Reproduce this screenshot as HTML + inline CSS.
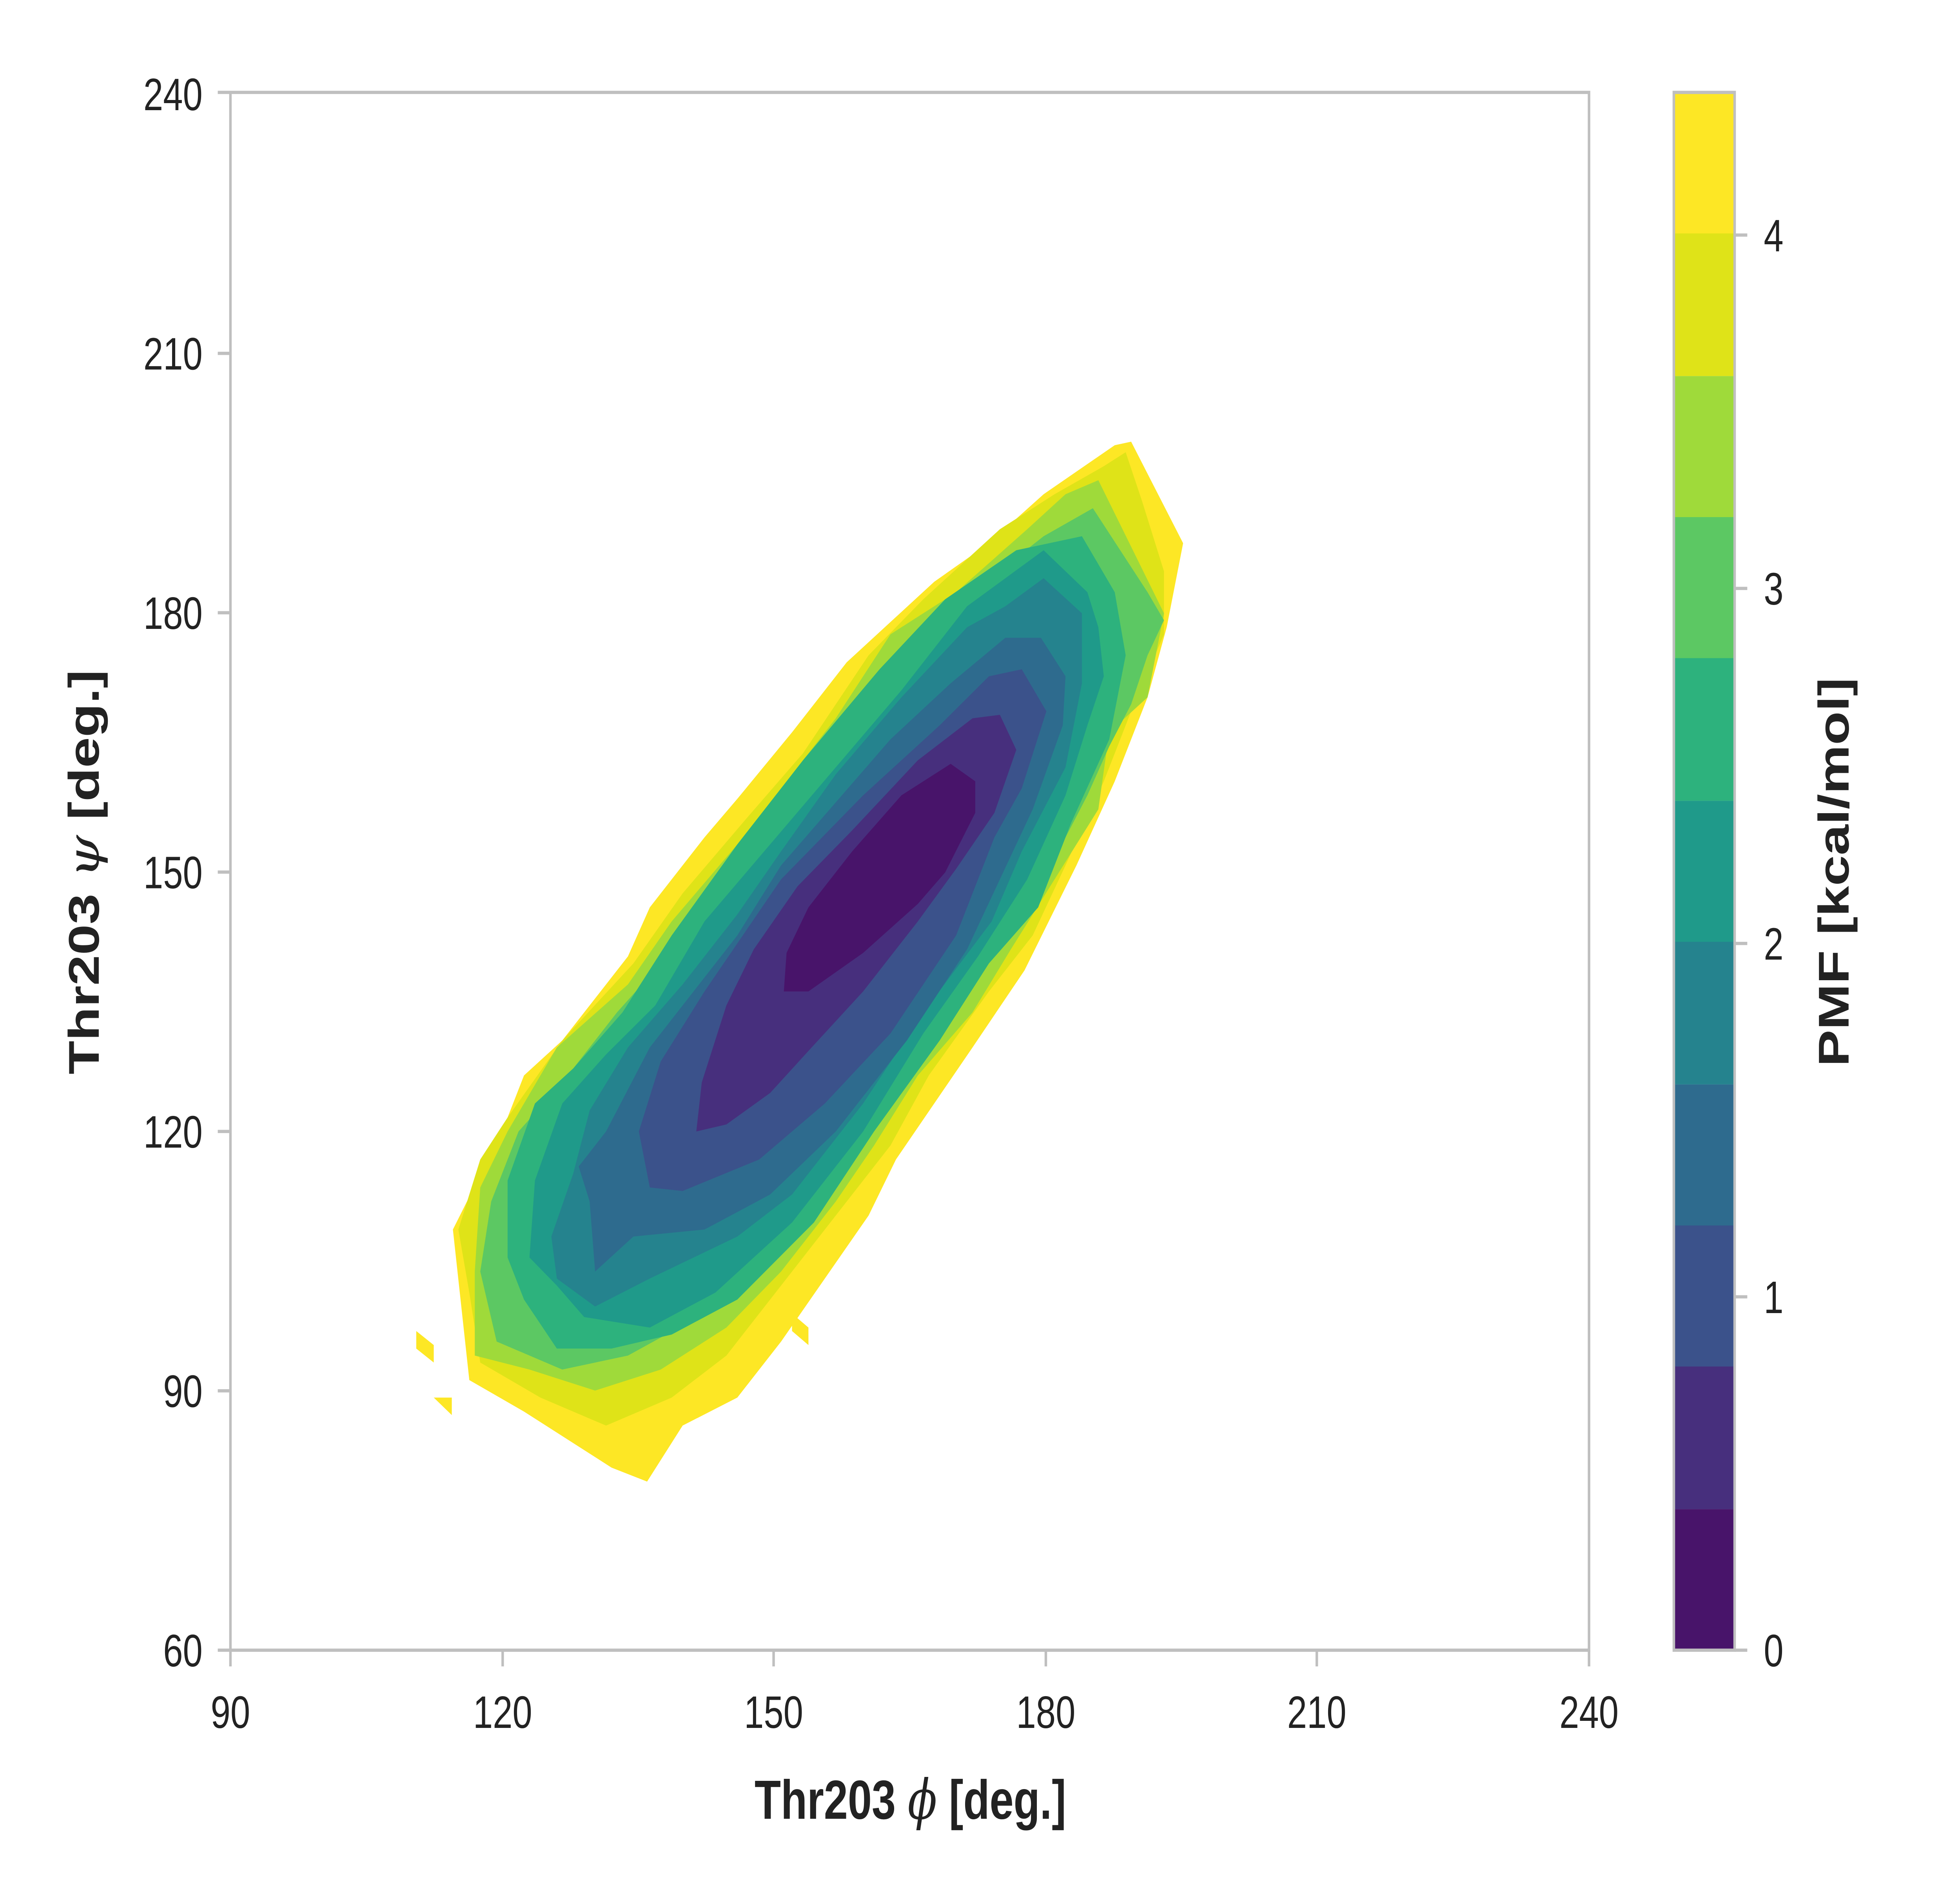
<!DOCTYPE html>
<html><head><style>html,body{margin:0;padding:0;background:#fff;width:100%;height:100%;overflow:hidden}svg{display:block;width:100vw;height:100vh}</style></head>
<body>
<svg viewBox="0 0 1548 1161" preserveAspectRatio="none" xmlns="http://www.w3.org/2000/svg" font-family="'Liberation Sans', sans-serif">
<rect width="1548" height="1161" fill="#fff"/>
<g transform="translate(314.5,266) scale(0.432)" stroke-linejoin="round">
<g fill="#fde725">
<polygon points="33,1285 65,1305 65,1330 33,1310"/>
<polygon points="65,1380 98,1380 98,1405"/>
<polygon points="720,1260 750,1280 750,1305 720,1285"/>
<polygon points="1340,15 1435,160 1405,280 1370,380 1310,500 1240,620 1145,770 1050,880 910,1040 860,1120 780,1210 700,1300 620,1380 520,1420 455,1500 390,1480 330,1450 230,1400 130,1355 100,1140 190,1000 230,920 300,870 420,750 460,680 560,580 620,525 720,430 820,330 980,215 1080,160 1180,90 1310,20"/>
</g>
<polygon fill="#dfe318" points="1330,30 1360,100 1400,200 1400,290 1340,400 1290,500 1220,620 1160,720 1080,800 970,920 900,1020 810,1110 700,1220 600,1320 500,1380 380,1420 260,1380 150,1330 130,1230 110,1140 150,1040 200,980 300,870 430,760 520,660 640,550 740,460 860,320 960,240 1100,140 1200,90 1290,50"/>
<polygon fill="#9fda3a" points="1280,70 1400,260 1370,380 1300,430 1280,540 1200,640 1120,740 1050,830 950,920 870,1020 800,1100 700,1200 600,1280 480,1340 360,1370 240,1340 140,1320 140,1200 150,1080 200,1000 290,880 420,790 500,700 620,590 720,490 800,410 900,290 1020,230 1150,140 1220,90"/>
<polygon fill="#5cc863" points="1270,110 1370,230 1400,270 1370,320 1340,390 1300,450 1260,520 1200,610 1140,700 1070,760 990,860 900,960 800,1080 690,1170 560,1260 420,1320 300,1340 180,1300 150,1200 170,1100 220,1000 300,930 400,830 480,760 580,650 700,540 820,410 930,300 1050,230 1180,150"/>
<polygon fill="#2db27d" points="1250,150 1310,230 1330,320 1300,440 1230,560 1170,680 1080,760 990,870 870,1000 760,1130 620,1240 500,1290 390,1310 290,1310 230,1240 200,1180 200,1070 250,960 320,910 410,830 500,720 620,590 740,470 880,340 1000,240 1130,170"/>
<polygon fill="#1f9a8a" points="1180,170 1260,230 1280,280 1290,350 1260,420 1220,520 1150,640 1060,750 960,860 850,1000 720,1130 580,1230 460,1280 340,1265 290,1220 240,1180 250,1070 300,960 380,890 470,820 560,700 680,590 800,480 920,370 1040,250"/>
<polygon fill="#25838e" points="1180,210 1250,260 1250,360 1220,480 1140,600 1085,700 960,830 850,960 720,1090 620,1150 460,1210 360,1250 290,1210 280,1150 320,1060 350,970 420,880 520,790 620,690 700,600 800,490 920,380 1040,280 1110,250"/>
<polygon fill="#2e6b8e" points="1175,295 1220,350 1215,420 1160,540 1100,640 1040,740 930,870 800,1000 680,1090 560,1140 430,1150 360,1200 350,1100 330,1050 380,1000 460,880 540,800 620,720 700,620 800,530 900,440 1010,360 1110,295"/>
<polygon fill="#3b528b" points="1140,340 1185,400 1140,510 1090,580 1020,720 900,860 780,960 660,1040 520,1085 460,1080 440,1000 480,900 560,800 700,640 850,520 990,420 1080,350"/>
<polygon fill="#472f7d" points="1100,405 1130,455 1090,545 1020,625 950,700 850,800 750,885 680,945 600,990 545,1000 555,930 600,820 650,740 730,650 830,570 950,470 1050,410"/>
<polygon fill="#48146a" points="1010,475 1055,500 1055,545 1000,630 950,675 850,745 750,800 705,800 710,745 750,680 830,600 920,520"/>
</g>
<rect x="182" y="57" width="1073" height="961" fill="none" stroke="#bfbfbf" stroke-width="2"/>
<g stroke="#bfbfbf" stroke-width="2">
<line x1="172" y1="1018" x2="182" y2="1018"/><line x1="172" y1="858" x2="182" y2="858"/><line x1="172" y1="698" x2="182" y2="698"/><line x1="172" y1="538" x2="182" y2="538"/><line x1="172" y1="378" x2="182" y2="378"/><line x1="172" y1="218" x2="182" y2="218"/><line x1="172" y1="57" x2="182" y2="57"/>
<line x1="182" y1="1018" x2="182" y2="1028"/><line x1="397" y1="1018" x2="397" y2="1028"/><line x1="611" y1="1018" x2="611" y2="1028"/><line x1="826" y1="1018" x2="826" y2="1028"/><line x1="1040" y1="1018" x2="1040" y2="1028"/><line x1="1255" y1="1018" x2="1255" y2="1028"/>
</g>
<g font-size="28" fill="#222" text-anchor="end">
<text x="160" y="1028">60</text><text x="160" y="868">90</text><text x="160" y="708">120</text><text x="160" y="548">150</text><text x="160" y="388">180</text><text x="160" y="228">210</text><text x="160" y="68">240</text>
</g>
<g font-size="28" fill="#222" text-anchor="middle">
<text x="182" y="1066">90</text><text x="397" y="1066">120</text><text x="611" y="1066">150</text><text x="826" y="1066">180</text><text x="1040" y="1066">210</text><text x="1255" y="1066">240</text>
</g>
<text x="719" y="1122" font-size="34" font-weight="bold" fill="#222" text-anchor="middle">Thr203 <tspan font-style="italic" font-weight="normal" font-family="'DejaVu Serif', serif">ϕ</tspan> [deg.]</text>
<text transform="translate(78,538) rotate(-90)" font-size="34" font-weight="bold" fill="#222" text-anchor="middle">Thr203 <tspan font-style="italic" font-weight="normal" font-family="'DejaVu Serif', serif">ψ</tspan> [deg.]</text>
<rect x="1322" y="57" width="48" height="88" fill="#fde725"/>
<rect x="1322" y="144" width="48" height="88" fill="#dfe318"/>
<rect x="1322" y="232" width="48" height="88" fill="#9fda3a"/>
<rect x="1322" y="319" width="48" height="88" fill="#5cc863"/>
<rect x="1322" y="406" width="48" height="88" fill="#2db27d"/>
<rect x="1322" y="494" width="48" height="88" fill="#1f9a8a"/>
<rect x="1322" y="581" width="48" height="88" fill="#25838e"/>
<rect x="1322" y="669" width="48" height="88" fill="#2e6b8e"/>
<rect x="1322" y="756" width="48" height="88" fill="#3b528b"/>
<rect x="1322" y="843" width="48" height="88" fill="#472f7d"/>
<rect x="1322" y="931" width="48" height="87" fill="#48146a"/>
<rect x="1322" y="57" width="48" height="961" fill="none" stroke="#bfbfbf" stroke-width="2"/>
<g stroke="#bfbfbf" stroke-width="2">
<line x1="1370" y1="1018" x2="1380" y2="1018"/><line x1="1370" y1="800" x2="1380" y2="800"/><line x1="1370" y1="582" x2="1380" y2="582"/><line x1="1370" y1="363" x2="1380" y2="363"/><line x1="1370" y1="145" x2="1380" y2="145"/>
</g>
<g font-size="28" fill="#222">
<text x="1393" y="1028">0</text><text x="1393" y="810">1</text><text x="1393" y="592">2</text><text x="1393" y="373">3</text><text x="1393" y="155">4</text>
</g>
<text transform="translate(1460,538) rotate(-90)" font-size="34" font-weight="bold" fill="#222" text-anchor="middle">PMF [kcal/mol]</text>
</svg>
</body></html>
